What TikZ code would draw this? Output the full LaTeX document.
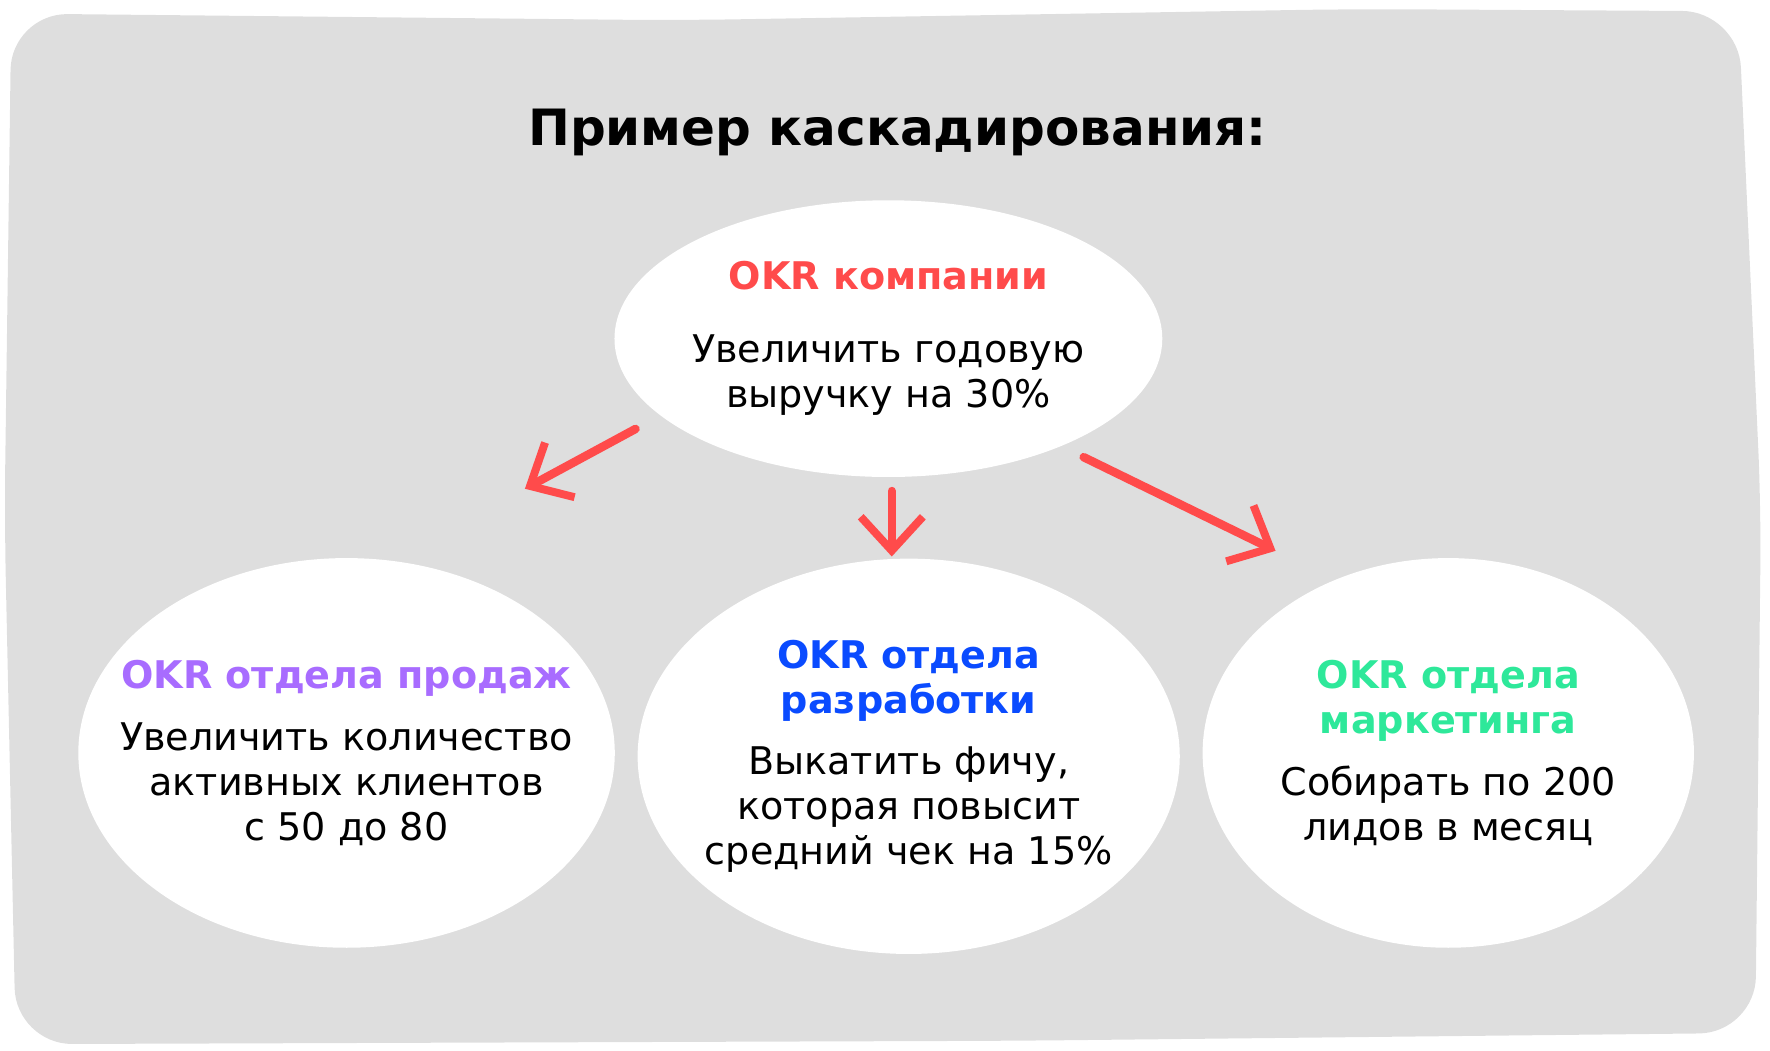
\documentclass[tikz,border=0pt]{standalone}
\usepackage{fontspec}
\setmainfont{DejaVu Sans}
\usetikzlibrary{arrows.meta, shapes.geometric}
\definecolor{bggray}{HTML}{DEDEDE}
\definecolor{okrred}{HTML}{FF4B4B}
\definecolor{okrpurple}{HTML}{A86CFF}
\definecolor{okrblue}{HTML}{0A4BFF}
\definecolor{okrgreen}{HTML}{2EE89A}
\tikzset{
	blob/.style = {ellipse, fill=white, inner xsep=-0.5cm, inner ysep=-0.2cm, align=center, font={\fontsize{9.6}{11.3}\selectfont}},
	cascade/.style = {-{Straight Barb[length=0.3cm, width=0.55cm, line width=0.07cm]}, line width=0.075cm, line cap=round, color=okrred}
}
\begin{document}
\begin{tikzpicture}[x=0.01cm, y=-0.01cm]
	\useasboundingbox (0,0) rectangle (1568,931);
	\fill[bggray, rounded corners=0.5cm] (10,12) -- (600,18) -- (1200,8) -- (1540,10) -- (1560,450) -- (1555,915) -- (900,922) -- (14,925) -- (4,460) -- cycle;

	\node[font={\bfseries\fontsize{12.6}{15}\selectfont}] (title) at (795,117) {Пример каскадирования:};

	% blobs
	\node[blob, minimum width=4.85cm, minimum height=2.45cm] (company) at (787,300)
		{{\color{okrred}\textbf{OKR компании}}\\[0.25cm]Увеличить годовую\\выручку на 30\%};
	\node[blob, minimum width=4.75cm, minimum height=3.45cm] (sales) at (307,667)
		{{\color{okrpurple}\textbf{OKR отдела продаж}}\\[0.15cm]Увеличить количество\\активных клиентов\\с 50 до 80};
	\node[blob, minimum width=4.8cm, minimum height=3.5cm] (dev) at (805,670)
		{{\color{okrblue}\textbf{OKR отдела}}\\{\color{okrblue}\textbf{разработки}}\\[0.15cm]Выкатить фичу,\\которая повысит\\средний чек на 15\%};
	\node[blob, minimum width=4.35cm, minimum height=3.45cm] (marketing) at (1283,667)
		{{\color{okrgreen}\textbf{OKR отдела}}\\{\color{okrgreen}\textbf{маркетинга}}\\[0.15cm]Собирать по 200\\лидов в месяц};

	% arrows
	\coordinate (l1) at (563,380);
	\coordinate (l2) at (465,433);
	\coordinate (m1) at (790,435);
	\coordinate (m2) at (790,493);
	\coordinate (r1) at (960,405);
	\coordinate (r2) at (1130,488);
	\draw[cascade] (l1) -- (l2);
	\draw[cascade] (m1) -- (m2);
	\draw[cascade] (r1) -- (r2);
\end{tikzpicture}
\end{document}
